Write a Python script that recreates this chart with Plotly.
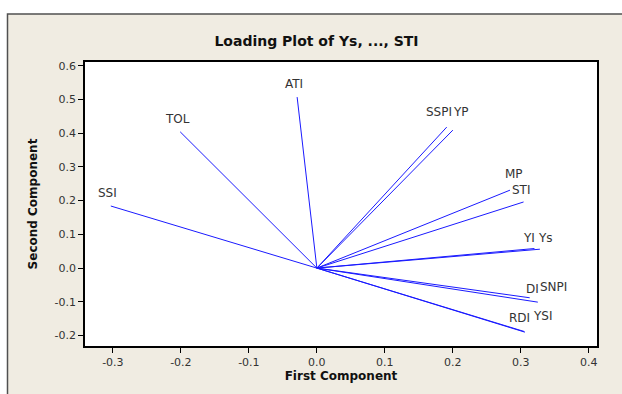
import plotly.graph_objects as go

# Loadings (first component, second component)
variables = ["SSI", "TOL", "ATI", "SSPI", "YP", "MP", "STI", "YI", "Ys", "DI", "SNPI", "RDI", "YSI"]
pc1 = [-0.303, -0.201, -0.029, 0.191, 0.200, 0.284, 0.304, 0.320, 0.328, 0.313, 0.325, 0.305, 0.306]
pc2 = [0.184, 0.404, 0.507, 0.418, 0.409, 0.231, 0.196, 0.058, 0.056, -0.088, -0.101, -0.188, -0.190]

x_ticks = [-0.3, -0.2, -0.1, 0.0, 0.1, 0.2, 0.3, 0.4]
x_ticklabels = ["-0.3", "-0.2", "-0.1", "0.0", "0.1", "0.2", "0.3", "0.4"]
y_ticks = [-0.2, -0.1, 0.0, 0.1, 0.2, 0.3, 0.4, 0.5, 0.6]
y_ticklabels = ["-0.2", "-0.1", "0.0", "0.1", "0.2", "0.3", "0.4", "0.5", "0.6"]

LINE = "#1a1aff"
BEIGE = "#f0ece2"
FONT = "DejaVu Sans"

# label nudges (pixels) so overlapping labels sit as in the original
nudge = {"SSPI": (-8, 15), "YP": (8, 18), "MP": (4, 16), "STI": (-2, 12),
         "YI": (-5, 11), "Ys": (6, 11), "DI": (3, 9), "SNPI": (16, 15),
         "RDI": (-5, 14), "YSI": (18, 16)}

fig = go.Figure()
for name, x, y in zip(variables, pc1, pc2):
    fig.add_trace(go.Scatter(x=[0, x], y=[0, y], mode="lines",
                             line=dict(color=LINE, width=1), name=name,
                             showlegend=False, hoverinfo="skip"))
    dx, dy = nudge.get(name, (-3, 13))
    fig.add_annotation(x=x, y=y, text=name, showarrow=False, yshift=dy, xshift=dx,
                       font=dict(family=FONT, size=12, color="#333333"))

# plot area: px 85..597 horizontally, 62..346 vertically
W, H = 622, 394
L, R, T, B = 85, 25, 62, 48
pw, ph = W - L - R, H - T - B
def px(v):
    return (v - L) / pw
def py(v):
    return (H - B - v) / ph

shapes = [
    dict(type="rect", xref="paper", yref="paper", x0=px(-5), x1=px(W + 5), y0=py(14), y1=py(-5),
         fillcolor="white", line=dict(width=0), layer="below"),
    dict(type="rect", xref="paper", yref="paper", x0=px(-5), x1=px(7), y0=py(-5), y1=py(H + 5),
         fillcolor="white", line=dict(width=0), layer="below"),
    dict(type="rect", xref="paper", yref="paper", x0=px(7.5), x1=px(W + 20), y0=py(14), y1=py(H + 20),
         fillcolor="rgba(0,0,0,0)", line=dict(color="#505050", width=1.5), layer="below"),
]

fig.update_layout(
    width=W, height=H,
    margin=dict(l=L, r=R, t=T, b=B),
    paper_bgcolor=BEIGE, plot_bgcolor="white",
    shapes=shapes,
    title=dict(text="<b>Loading Plot of Ys, ..., STI</b>", xref="container", x=316.5 / W,
               xanchor="center", yref="container", y=1 - 41 / H, yanchor="middle",
               font=dict(family=FONT, size=14, color="#111111")),
    font=dict(family=FONT, size=11, color="#222222"),
    xaxis=dict(range=[-0.341, 0.412], tickvals=x_ticks, ticktext=x_ticklabels,
               showgrid=False, zeroline=False, showline=True, linecolor="black", linewidth=1.5,
               mirror=True, ticks="outside", ticklen=5, tickcolor="black",
               tickfont=dict(family=FONT, size=11, color="#333333"),
               title=dict(text="<b>First Component</b>", standoff=3,
                          font=dict(family=FONT, size=12, color="#111111"))),
    yaxis=dict(range=[-0.231, 0.611], tickvals=y_ticks, ticktext=y_ticklabels,
               showgrid=False, zeroline=False, showline=True, linecolor="black", linewidth=1.5,
               mirror=True, ticks="outside", ticklen=5, tickcolor="black",
               tickfont=dict(family=FONT, size=11, color="#333333"),
               title=dict(text="<b>Second Component</b>", standoff=14,
                          font=dict(family=FONT, size=12, color="#111111"))),
)

fig.write_html("out.html", config={"displayModeBar": False},
               post_script="document.body.style.margin='0';")
